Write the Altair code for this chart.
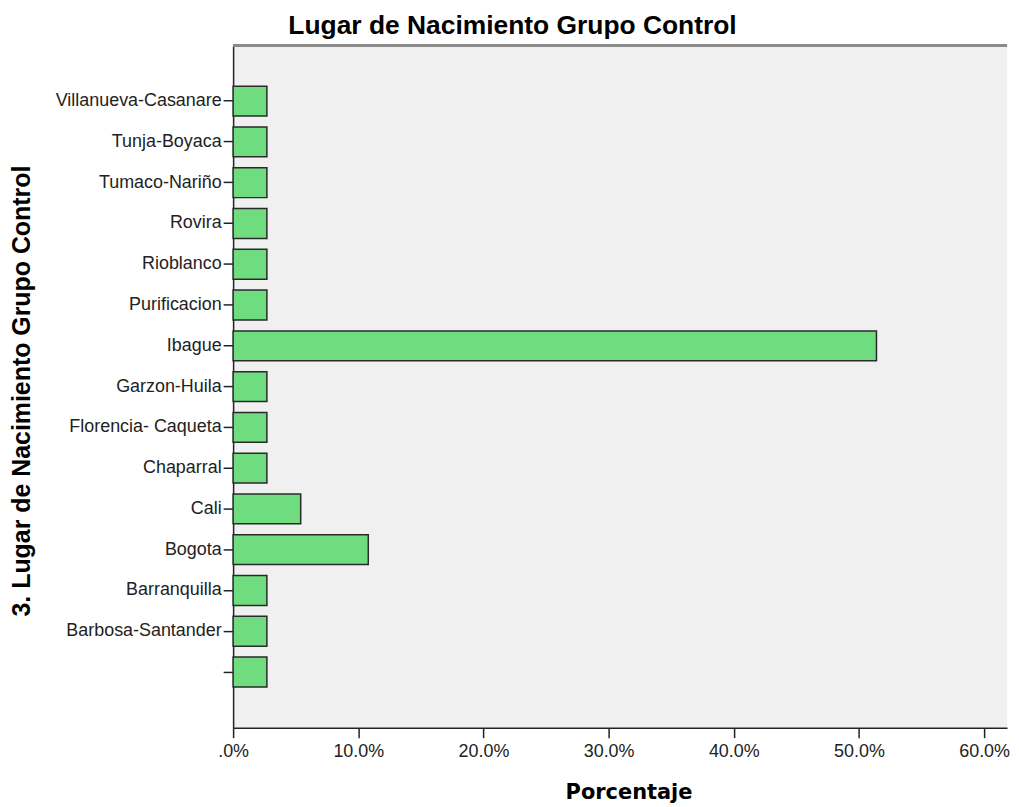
import altair as alt
import pandas as pd

categories = [
    "Villanueva-Casanare", "Tunja-Boyaca", "Tumaco-Nariño", "Rovira",
    "Rioblanco", "Purificacion", "Ibague", "Garzon-Huila",
    "Florencia- Caqueta", "Chaparral", "Cali", "Bogota",
    "Barranquilla", "Barbosa-Santander", " ",
]
percentages = [2.7, 2.7, 2.7, 2.7, 2.7, 2.7, 51.4, 2.7, 2.7, 2.7, 5.4, 10.8, 2.7, 2.7, 2.7]
tick_values = [0, 10, 20, 30, 40, 50, 60]

df = pd.DataFrame({"lugar": categories, "pct": percentages})

W, H = 777, 685
FONT = "Liberation Sans"

bars = alt.Chart(df).mark_bar(
    color="#6edc7f", stroke="#2a2a2a", strokeWidth=1.5
).encode(
    x=alt.X(
        "pct:Q",
        scale=alt.Scale(domain=[0, 61.83], nice=False, zero=True),
        axis=alt.Axis(
            values=tick_values,
            labelExpr="datum.value == 0 ? '.0%' : format(datum.value, '.1f') + '%'",
            title="Porcentaje",
            titleFont="DejaVu Sans",
            titleFontSize=21,
            titleFontWeight="bold",
            titleColor="#000000",
            titleX=397,
            titleY=71,
            titleBaseline="alphabetic",
            titleAlign="center",
            labelFont=FONT,
            labelFontSize=18,
            labelColor="#222222",
            labelPadding=5,
            tickSize=10,
            tickColor="#222222",
            tickWidth=1.5,
            domainColor="#222222",
            domainWidth=1.5,
            grid=False,
            labelFlush=False,
        ),
    ),
    y=alt.Y(
        "lugar:N",
        sort=categories,
        scale=alt.Scale(paddingInner=0.268, paddingOuter=1.0),
        axis=alt.Axis(
            title="3. Lugar de Nacimiento Grupo Control",
            titleFont=FONT,
            titleFontSize=25,
            titleFontWeight="bold",
            titleColor="#000000",
            titleAngle=-90,
            titleX=-204,
            titleY=H / 2 + 4,
            titleAlign="center",
            titleBaseline="alphabetic",
            labelFont=FONT,
            labelFontSize=18,
            labelColor="#222222",
            labelPadding=2,
            tickSize=10,
            tickColor="#222222",
            tickWidth=1.5,
            domainColor="#222222",
            domainWidth=1.5,
            grid=False,
        ),
    ),
)

top_border = alt.Chart(df).mark_rule(color="#8a8a8a", strokeWidth=2.5).encode(
    x=alt.value(0), x2=alt.value(W), y=alt.value(0)
)

chart = alt.layer(bars, top_border).properties(
    width=W,
    height=H,
    background="#ffffff",
    title=alt.TitleParams(
        "Lugar de Nacimiento Grupo Control",
        font=FONT,
        fontSize=26.5,
        fontWeight="bold",
        color="#000000",
        anchor="middle",
        dx=-108,
        offset=5,
    ),
    autosize=alt.AutoSizeParams(type="none"),
    padding={"left": 226, "top": 36, "right": 4, "bottom": 78},
).configure_view(
    fill="#f0f0f0", strokeWidth=0
)

chart.save("out.html", embed_options={"renderer": "svg", "actions": False})
